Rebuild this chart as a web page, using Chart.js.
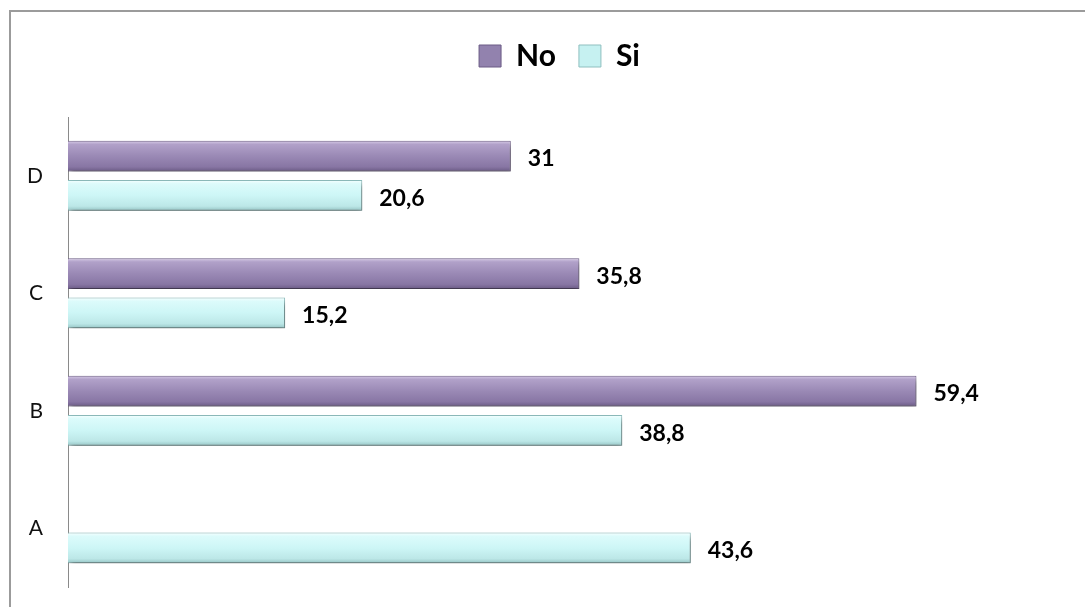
<!DOCTYPE html>
<html>
<head>
<meta charset="utf-8">
<title>No / Si</title>
<script src="https://cdn.jsdelivr.net/npm/chart.js@4.4.0/dist/chart.umd.min.js"></script>
<style>
html, body { margin: 0; padding: 0; background: #fff; overflow: hidden; }
#wrap { position: relative; width: 1085px; height: 607px; overflow: hidden; }
#frame { position: absolute; left: 9px; top: 10px; width: 1200px; height: 700px;
  border-left: 2px solid #9b9b9b; border-top: 2px solid #9b9b9b; }
canvas { position: absolute; left: 0; top: 0; }
</style>
</head>
<body>
<div id="wrap">
  <div id="frame"></div>
  <canvas id="chart" width="1085" height="607"></canvas>
</div>
<script>
var categories = ['A', 'B', 'C', 'D'];
var noValues = [null, 59.4, 35.8, 31];
var siValues = [43.6, 38.8, 15.2, 20.6];
var xMax = 71.2;

var catPct = 0.67;
var barPct = 0.78;

// gradient stops, top to bottom of each bar
var purpleStops = [[0, '#d8cce8'], [0.12, '#b1a1c9'], [0.5, '#9a89b5'], [0.85, '#8876a4'], [1, '#6b5b85']];
var cyanStops = [[0, '#f6ffff'], [0.12, '#dcfbfb'], [0.5, '#cdf6f6'], [0.85, '#bce7e7'], [1, '#94c3c3']];
var legendFill = ['#9282ae', '#c6f1f1'];
var legendBorder = ['#6b5b85', '#8fbfbf'];

function barFill(c) {
  var stops = c.datasetIndex === 0 ? purpleStops : cyanStops;
  var chart = c.chart;
  var y = chart.scales && chart.scales.y;
  if (c.type !== 'data' || !y || !y.height) return stops[2][1];
  var cat = y.height / categories.length;
  var slot = cat * catPct / 2;
  var thick = slot * barPct;
  var center = y.getPixelForValue(c.dataIndex);
  var top = center - cat * catPct / 2 + slot * c.datasetIndex + (slot - thick) / 2;
  var g = chart.ctx.createLinearGradient(0, top, 0, top + thick);
  stops.forEach(function (s) { g.addColorStop(s[0], s[1]); });
  return g;
}

var barShadow = {
  id: 'barShadow',
  beforeDatasetDraw: function (chart) {
    var ctx = chart.ctx;
    ctx.save();
    ctx.shadowColor = 'rgba(0,0,0,0.5)';
    ctx.shadowBlur = 6;
    ctx.shadowOffsetX = 2;
    ctx.shadowOffsetY = 4;
  },
  afterDatasetDraw: function (chart) {
    chart.ctx.restore();
  }
};

var valueLabels = {
  id: 'valueLabels',
  afterDatasetsDraw: function (chart) {
    var ctx = chart.ctx;
    ctx.save();
    ctx.font = 'bold 23px Lato';
    ctx.fillStyle = '#000';
    ctx.textBaseline = 'middle';
    ctx.textAlign = 'left';
    chart.data.datasets.forEach(function (ds, i) {
      chart.getDatasetMeta(i).data.forEach(function (bar, j) {
        var v = ds.data[j];
        if (v == null) return;
        ctx.fillText(String(v).replace('.', ','), bar.x + 17, bar.y + 3);
      });
    });
    ctx.restore();
  }
};

Chart.defaults.font.family = 'Lato';
Chart.defaults.color = '#000';

var chart = new Chart(document.getElementById('chart').getContext('2d'), {
  type: 'bar',
  data: {
    labels: categories,
    datasets: [{
      label: 'No',
      data: noValues,
      backgroundColor: barFill,
      borderColor: '#76658f',
      borderWidth: 1,
      categoryPercentage: catPct,
      barPercentage: barPct
    }, {
      label: 'Si',
      data: siValues,
      backgroundColor: barFill,
      borderColor: '#8fbfbf',
      borderWidth: 1,
      categoryPercentage: catPct,
      barPercentage: barPct
    }]
  },
  options: {
    indexAxis: 'y',
    responsive: false,
    animation: false,
    // negative right padding only widens the legend box (centres it like the original)
    layout: { padding: { top: 18, left: 22, right: -12, bottom: 20 } },
    scales: {
      x: {
        position: 'top',
        min: 0,
        max: xMax,
        grid: { display: false },
        border: { display: false },
        ticks: { display: false },
        afterFit: function (s) { s.height = 36; }
      },
      y: {
        reverse: true,
        grid: { display: false, drawTicks: false },
        border: { display: true, color: '#8a8a8a', width: 1 },
        ticks: { padding: 25, font: { size: 21 }, color: '#111' },
        afterFit: function (s) {
          s.width = 46;
          s.paddingTop = 0;
          s.paddingBottom = 0;
        }
      }
    },
    plugins: {
      legend: {
        position: 'top',
        labels: {
          boxWidth: 22,
          boxHeight: 22,
          padding: 23,
          font: { size: 30, weight: 'bold' },
          color: '#000',
          generateLabels: function (chart) {
            var items = Chart.defaults.plugins.legend.labels.generateLabels(chart);
            items.forEach(function (it, i) {
              it.fillStyle = legendFill[i];
              it.strokeStyle = legendBorder[i];
              it.lineWidth = 1;
            });
            return items;
          }
        }
      },
      tooltip: { enabled: false }
    }
  },
  plugins: [barShadow, valueLabels]
});
</script>
</body>
</html>
